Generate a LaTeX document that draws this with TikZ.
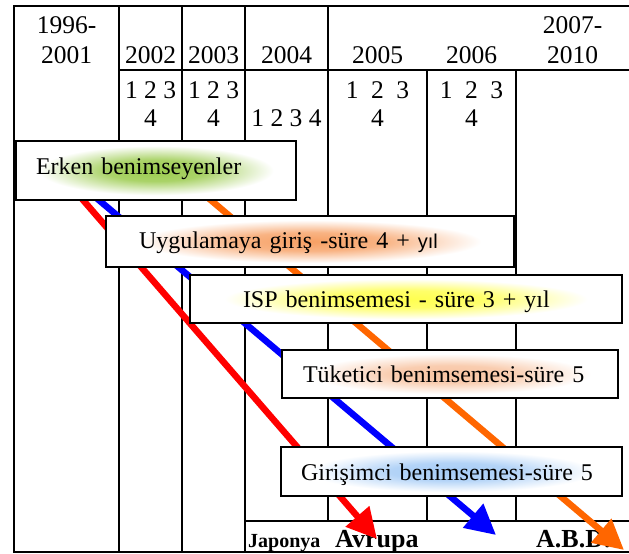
\documentclass[tikz,border=0pt]{standalone}
\usepackage{fontspec}
\setmainfont{Liberation Serif}
\newfontfamily\sansfnt{Liberation Sans}
\usetikzlibrary{arrows.meta}
\definecolor{erkengreen}{HTML}{9BCB4E}
\definecolor{uyorange}{HTML}{F7A064}
\definecolor{ispyellow}{HTML}{FFFF50}
\definecolor{tukpeach}{HTML}{F8C4A2}
\definecolor{girblue}{HTML}{A6CCF6}
\definecolor{arrred}{HTML}{FF0000}
\definecolor{arrblue}{HTML}{0000FF}
\definecolor{arrorange}{HTML}{FF6600}
\pgfdeclareradialshading{erkenglow}{\pgfpoint{0bp}{0bp}}{color(0bp)=(erkengreen); color(9bp)=(erkengreen!85!white); color(21bp)=(white); color(50bp)=(white)}
\pgfdeclareradialshading{uyglow}{\pgfpoint{0bp}{0bp}}{color(0bp)=(uyorange); color(9bp)=(uyorange!80!white); color(21bp)=(white); color(50bp)=(white)}
\pgfdeclareradialshading{ispglow}{\pgfpoint{0bp}{0bp}}{color(0bp)=(ispyellow); color(9bp)=(ispyellow!85!white); color(21bp)=(white); color(50bp)=(white)}
\pgfdeclareradialshading{tukglow}{\pgfpoint{0bp}{0bp}}{color(0bp)=(tukpeach); color(9bp)=(tukpeach!85!white); color(21bp)=(white); color(50bp)=(white)}
\pgfdeclareradialshading{girglow}{\pgfpoint{0bp}{0bp}}{color(0bp)=(girblue); color(9bp)=(girblue!85!white); color(21bp)=(white); color(50bp)=(white)}

\begin{document}
\begin{tikzpicture}[x=1pt,y=-1pt,
  grid/.style={line width=2pt, line cap=rect},
  yr/.style={font=\fontsize{25.5}{28}\selectfont, inner sep=0pt},
  phase/.style={draw, line width=2pt, shade, font=\fontsize{24}{28}\selectfont,
                align=left, text height=17pt, text depth=0pt, inner ysep=0pt},
  arr/.style={line width=6.5pt, -{Triangle[length=30pt,width=30pt]}},
  land/.style={font=\bfseries\fontsize{26}{28}\selectfont, anchor=base west, inner sep=0pt}
]
  \useasboundingbox (0,0) rectangle (629,554);

  \draw[grid] (14,6) -- (629,6);
  \draw[grid] (14,6) -- (14,552) -- (629,552);
  \foreach \x in {119,182,245} \draw[grid] (\x,6) -- (\x,552);
  \draw[grid] (328,6) -- (328,521);
  \foreach \x in {427,516} \draw[grid] (\x,70) -- (\x,521);
  \draw[grid] (119,70) -- (629,70);
  \draw[grid] (245,521) -- (629,521);

  \node[yr] (y96) at (66.5,25) {1996-};
  \node[yr] (y01) at (66.5,55) {2001};
  \node[yr] (y02) at (150.5,55) {2002};
  \node[yr] (y03) at (213.5,55) {2003};
  \node[yr] (y04) at (286.5,55) {2004};
  \node[yr] (y05) at (377.5,55) {2005};
  \node[yr] (y06) at (471.5,55) {2006};
  \node[yr] (y07) at (572.5,25) {2007-};
  \node[yr] (y10) at (572.5,55) {2010};

  \node[yr] (q02) at (150.5,90) {1 2 3};
  \node[yr] (q02b) at (150.5,118) {4};
  \node[yr] (q03) at (213.5,90) {1 2 3};
  \node[yr] (q03b) at (213.5,118) {4};
  \node[yr] (q04) at (286.5,118) {1 2 3 4};
  \node[yr] (q05) at (377.5,90) {1\hspace{12.5pt}2\hspace{12.5pt}3};
  \node[yr] (q05b) at (377.5,118) {4};
  \node[yr] (q06) at (471.5,90) {1\hspace{12.5pt}2\hspace{12.5pt}3};
  \node[yr] (q06b) at (471.5,118) {4};

  \node[land, font=\bfseries\fontsize{20}{24}\selectfont] (jap) at (248,547) {Japonya};
  \node[land] (avr) at (335,547) {Avrupa};
  \node[land] (abd) at (536,547) {A.B.D.};

  \coordinate (redS) at (70,185);
  \coordinate (redE) at (377,539);
  \coordinate (bluS) at (81,185);
  \coordinate (bluE) at (496,535);
  \coordinate (orgS) at (193,185);
  \coordinate (orgE) at (624,550);
  \draw[arr, arrred] (redS) -- (redE);
  \draw[arr, arrblue] (bluS) -- (bluE);
  \draw[arr, arrorange] (orgS) -- (orgE);

  \node[phase, shading=erkenglow, minimum width=280pt, minimum height=59pt,
        inner xsep=20pt, text width=240pt, text depth=10pt] (erken) at (156,170.5) {Erken benimseyenler};
  \node[phase, shading=uyglow, minimum width=408pt, minimum height=51pt,
        inner xsep=33pt, text width=342pt, text depth=4pt] (uyg) at (310,241.5)
        {Uygulamaya giriş -süre 4 + {\sansfnt\fontsize{20}{24}\selectfont yıl}};
  \node[phase, shading=ispglow, minimum width=432pt, minimum height=48pt,
        inner xsep=53pt, text width=326pt] (isp) at (406,299) {ISP benimsemesi - süre 3 + yıl};
  \node[phase, shading=tukglow, minimum width=336pt, minimum height=48pt,
        inner xsep=21pt, text width=294pt] (tuk) at (450,374) {Tüketici benimsemesi-süre 5};
  \node[phase, shading=girglow, minimum width=341pt, minimum height=49pt,
        inner xsep=20pt, text width=301pt] (gir) at (451.5,471.5) {Girişimci benimsemesi-süre 5};
\end{tikzpicture}
\end{document}
